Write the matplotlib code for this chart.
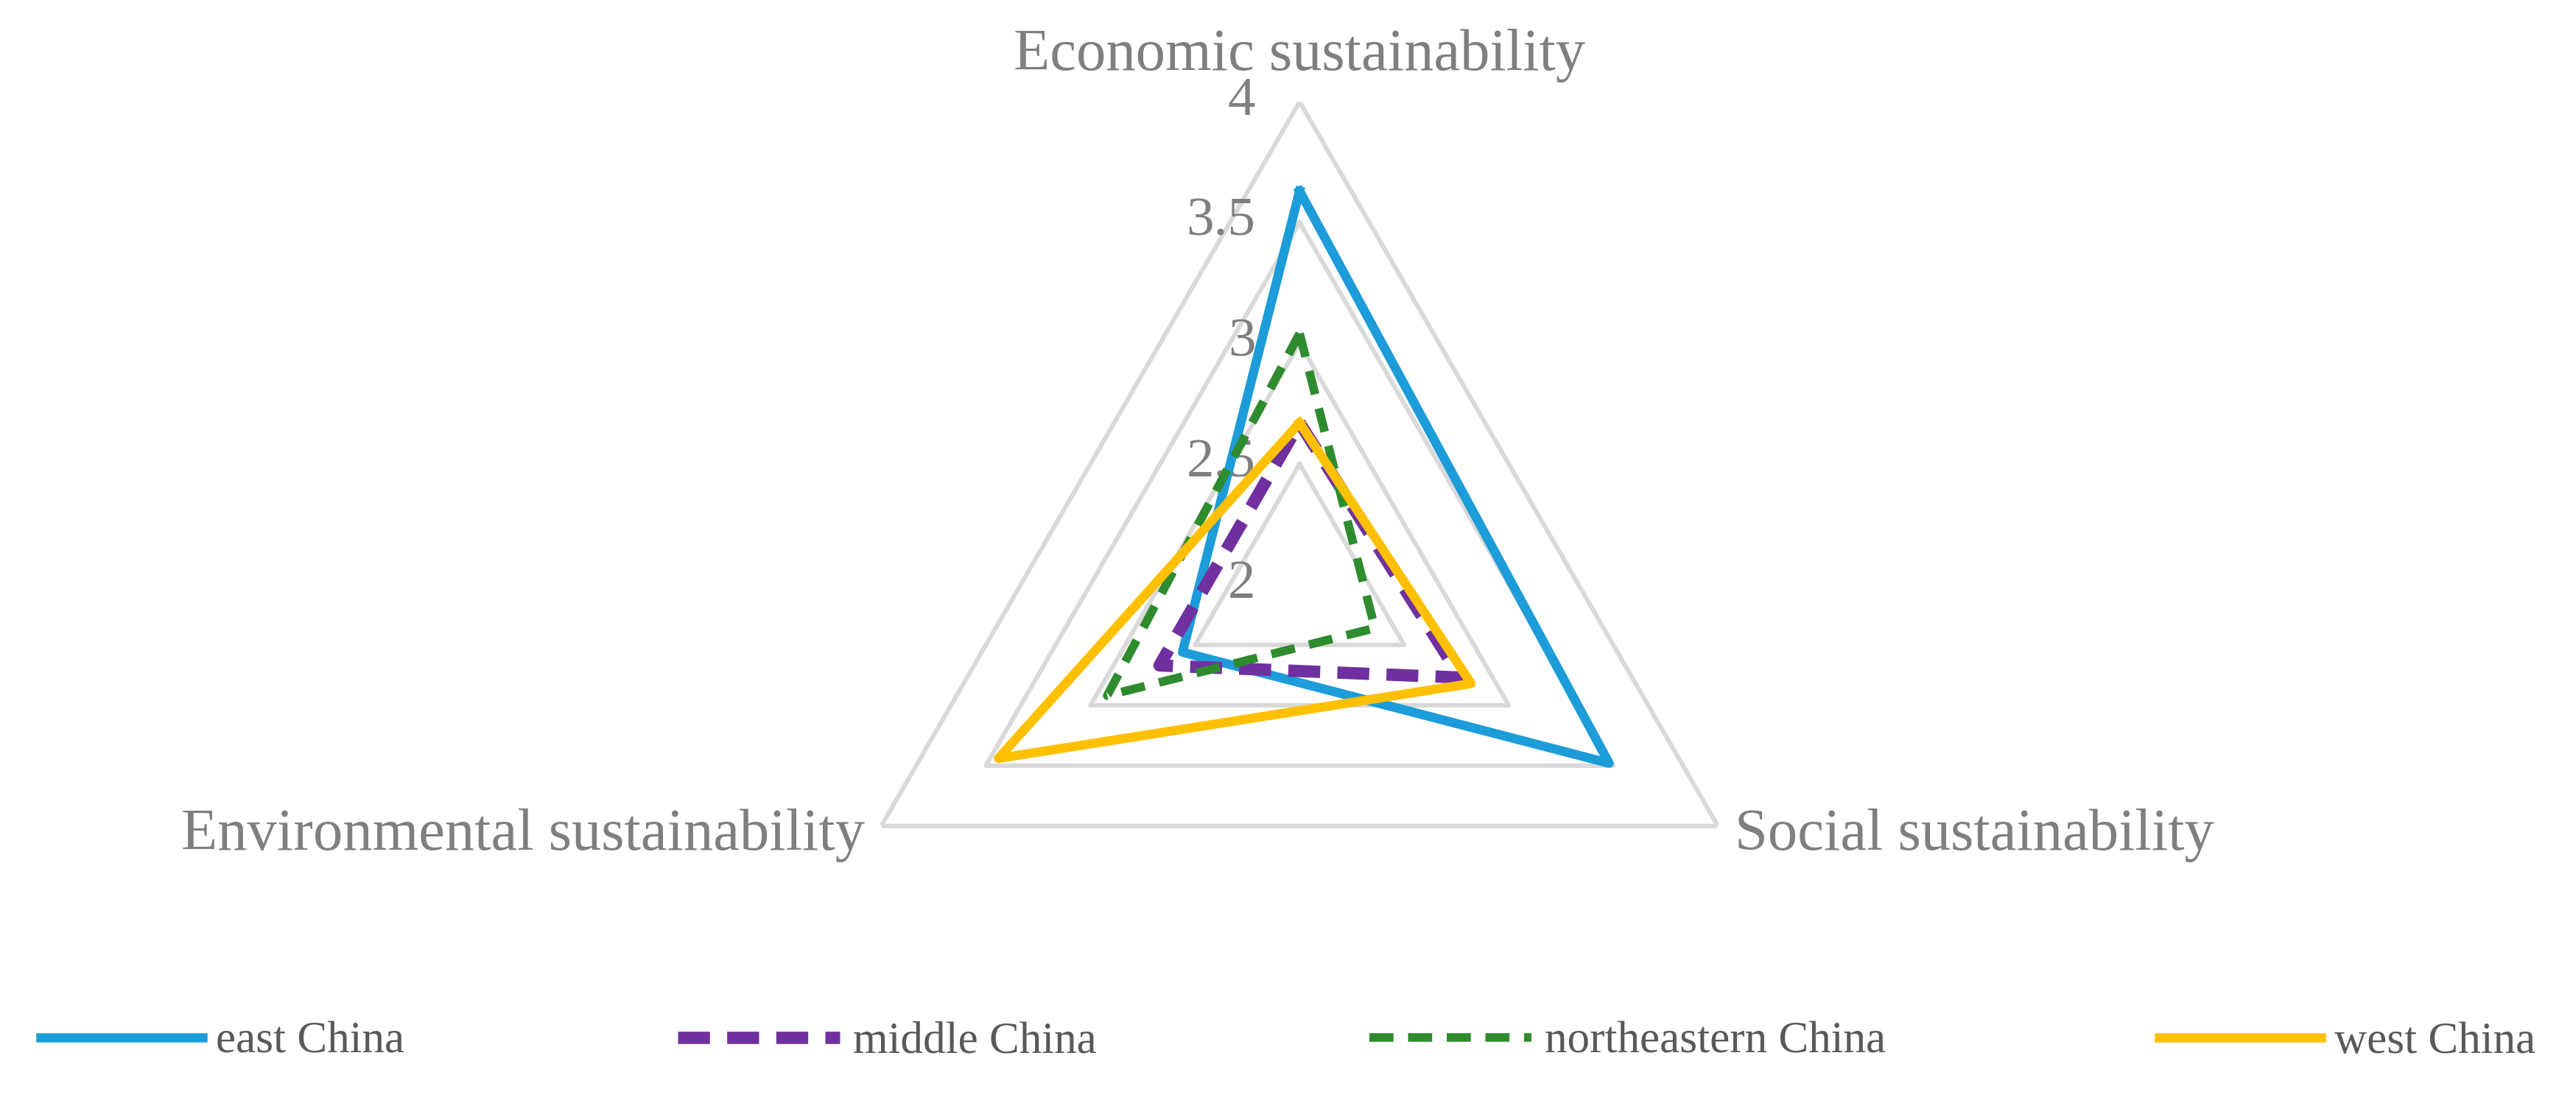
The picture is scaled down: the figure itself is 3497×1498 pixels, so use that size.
import numpy as np
import matplotlib
matplotlib.use("Agg")
import matplotlib.pyplot as plt
from matplotlib.transforms import offset_copy

plt.rcParams["font.family"] = ["Liberation Serif", "DejaVu Serif"]

categories = ["Economic sustainability", "Social sustainability", "Environmental sustainability"]
series_names = ["east China", "middle China", "northeastern China", "west China"]
east = [3.63, 3.48, 2.56]
middle = [2.67, 2.77, 2.67]
northeast = [3.04, 2.36, 2.92]
west = [2.67, 2.82, 3.44]
grid_levels = [2, 2.5, 3, 3.5, 4]
tick_labels = ["2", "2.5", "3", "3.5", "4"]

colors = ["#1c9cd9", "#7030a0", "#2e8b2e", "#ffc000"]
styles = [dict(ls="-", lw=4.5), dict(ls=(0, (2.6, 1.4)), lw=6),
          dict(ls=(0, (2.8, 1.7)), lw=4.2), dict(ls="-", lw=4.5)]

fig = plt.figure(figsize=(17.485, 7.49), dpi=200)
ax = fig.add_axes([0.317, 0.032, 0.375, 0.876], projection="polar")
ax.set_theta_offset(np.pi / 2)
ax.set_theta_direction(-1)
ax.set_ylim(2, 4)
ax.grid(False)
ax.spines["polar"].set_visible(False)
ax.set_xticks([])
ax.set_yticks([])
ax.patch.set_alpha(0)

theta = np.linspace(0, 2 * np.pi, len(categories), endpoint=False)
th_closed = np.append(theta, theta[0])

for lv in grid_levels[1:]:
    ax.plot(th_closed, [lv] * 4, color="#d9d9d9", lw=2.2, zorder=1)

for name, vals, c, st in zip(series_names, [east, middle, northeast, west], colors, styles):
    ax.plot(th_closed, vals + vals[:1], color=c, label=name, zorder=3, **st)

off = offset_copy(ax.transData, fig=fig, x=-0.3, y=0, units="inches")
for lv, lab in zip(grid_levels, tick_labels):
    ax.text(0, lv, lab, transform=off, ha="right", va="center", fontsize=27, color="#7f7f7f", zorder=2)

ax.text(theta[0], 4.08, categories[0], ha="center", va="bottom", fontsize=29, color="#7f7f7f")
ax.text(theta[1], 4.08, categories[1], ha="left", va="center", fontsize=29, color="#7f7f7f")
ax.text(theta[2], 4.08, categories[2], ha="right", va="center", fontsize=29, color="#7f7f7f")

fig.legend(loc="lower left", bbox_to_anchor=(0.0, 0.0, 1.0, 0.08), mode="expand", ncol=4,
           frameon=False, fontsize=22, handlelength=3.6, handletextpad=0.3, labelcolor="#595959")

fig.savefig("out.png", dpi=200, facecolor="white")
